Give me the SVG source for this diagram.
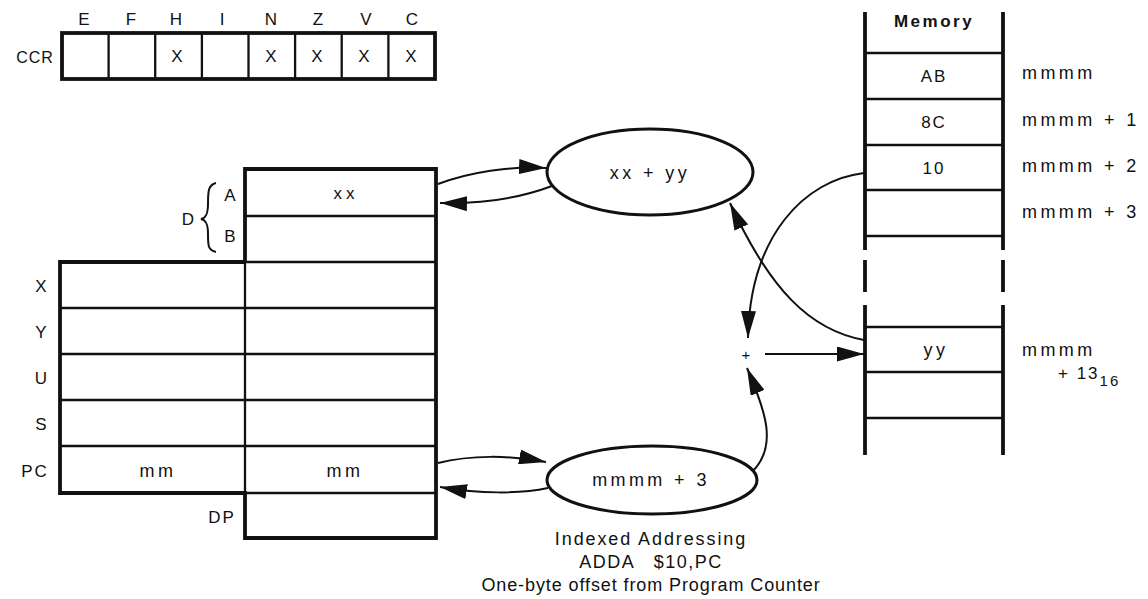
<svg xmlns="http://www.w3.org/2000/svg" width="1148" height="599" viewBox="0 0 1148 599">
<defs>
<style>
text{font-family:"Liberation Sans",Arial,sans-serif;fill:#111;}
.t{font-size:17px;letter-spacing:2px;}
.m{font-size:18px;letter-spacing:3.4px;}
.cap{font-size:18px;letter-spacing:1.9px;text-anchor:middle;}
.c{text-anchor:middle;}
.b{font-weight:bold;}
.thick{fill:none;stroke:#111;stroke-width:3.8;}
.thin{fill:none;stroke:#111;stroke-width:2.3;}
.conn{fill:none;stroke:#111;stroke-width:2;}
.ell{fill:#fff;stroke:#111;stroke-width:3;}
</style>
<marker id="ah" markerUnits="userSpaceOnUse" markerWidth="27" markerHeight="15" refX="27" refY="7.5" orient="auto">
<path d="M0,0 L27,7.5 L0,15 z" fill="#111"/>
</marker>
</defs>
<rect width="1148" height="599" fill="#fff"/>

<g id="ccr">
<text x="35" y="63" style="font-size:16px;letter-spacing:1px" text-anchor="middle">CCR</text>
<g class="t c">
<text x="85" y="25">E</text><text x="132" y="25">F</text><text x="177" y="25">H</text><text x="223" y="25">I</text>
<text x="272" y="25">N</text><text x="319" y="25">Z</text><text x="367" y="25">V</text><text x="413" y="25">C</text>
</g>
<rect x="62" y="33" width="373" height="46" class="thick"/>
<path class="thin" d="M108.6,33V79M155.2,33V79M201.9,33V79M248.5,33V79M295.1,33V79M341.7,33V79M388.4,33V79"/>
<g class="t c">
<text x="178" y="62">X</text><text x="272" y="62">X</text><text x="318" y="62">X</text><text x="365" y="62">X</text><text x="412" y="62">X</text>
</g>
</g>

<g id="registers">
<path class="thin" d="M245,216H436M245,262H436M60,308H436M60,354H436M60,400H436M60,446H436M245,493H436M245,262V493"/>
<path class="thick" d="M245,262V169H436V538H245V493H60V262H245"/>
<text class="t c" x="346" y="199" style="letter-spacing:4px">xx</text>
<text class="t c" x="231" y="201">A</text>
<text class="t c" x="231" y="242">B</text>
<text class="t c" x="189" y="225">D</text>
<path class="conn" d="M216,183 C208,185 208,192 208,204 C208,214 206,218 201,219 C206,220 208,224 208,234 C208,246 208,250 216,252"/>
<text class="t c" x="42" y="292">X</text>
<text class="t c" x="42" y="338">Y</text>
<text class="t c" x="42" y="384">U</text>
<text class="t c" x="42" y="430">S</text>
<text class="t c" x="35" y="477">PC</text>
<text class="m c" x="158" y="477">mm</text>
<text class="m c" x="345" y="477">mm</text>
<text class="t c" x="222" y="523">DP</text>
</g>

<g id="alu">
<ellipse class="ell" cx="650" cy="172" rx="103" ry="43"/>
<text class="m c" x="650" y="179">xx + yy</text>
</g>

<g id="pcadd">
<ellipse class="ell" cx="652" cy="480" rx="105" ry="34"/>
<text class="m c" x="651" y="486">mmmm + 3</text>
</g>

<g id="memory">
<path class="thick" d="M865,12V250M865,260V292M865,305V455M1003,12V250M1003,260V292M1003,305V455"/>
<path class="thin" d="M865,53H1003M865,99H1003M865,145H1003M865,190H1003M865,236H1003M865,327H1003M865,372H1003M865,418H1003"/>
<text class="t c b" x="934" y="27" style="letter-spacing:2.5px">Memory</text>
<text class="t c" x="934" y="82">AB</text>
<text class="t c" x="934" y="128">8C</text>
<text class="t c" x="934" y="174">10</text>
<text class="m c" x="936" y="356">yy</text>
<text class="m" x="1022" y="79">mmmm</text>
<text class="m" x="1022" y="126">mmmm + 1</text>
<text class="m" x="1022" y="172">mmmm + 2</text>
<text class="m" x="1022" y="218">mmmm + 3</text>
<text class="m" x="1022" y="356">mmmm</text>
<text class="t" x="1058" y="379">+ 13<tspan font-size="15" dy="7">16</tspan></text>
</g>

<g id="adder">
<text class="c" x="746" y="360" font-size="15">+</text>
</g>

<g id="connectors">
<path class="conn" marker-end="url(#ah)" d="M438,184 C470,172 510,166 546,168"/>
<path class="conn" marker-end="url(#ah)" d="M552,186 C520,198 480,204 440,203"/>
<path class="conn" marker-end="url(#ah)" d="M438,463 C470,455 510,455 546,462"/>
<path class="conn" marker-end="url(#ah)" d="M548,488 C520,494 480,494 440,487"/>
<path class="conn" marker-end="url(#ah)" d="M864,173 C805,180 750,235 748,338"/>
<path class="conn" marker-end="url(#ah)" d="M864,340 C810,330 770,290 730,203"/>
<path class="conn" marker-end="url(#ah)" d="M753,471 C778,445 765,410 747,368"/>
<path class="conn" marker-end="url(#ah)" d="M765,354 L864,354"/>
</g>

<g id="caption">
<text class="cap" x="651" y="545">Indexed Addressing</text>
<text class="cap" x="651" y="568" style="white-space:pre;letter-spacing:1.5px">ADDA   $10,PC</text>
<text class="cap" x="651" y="591" style="letter-spacing:0.9px">One-byte offset from Program Counter</text>
</g>
</svg>
